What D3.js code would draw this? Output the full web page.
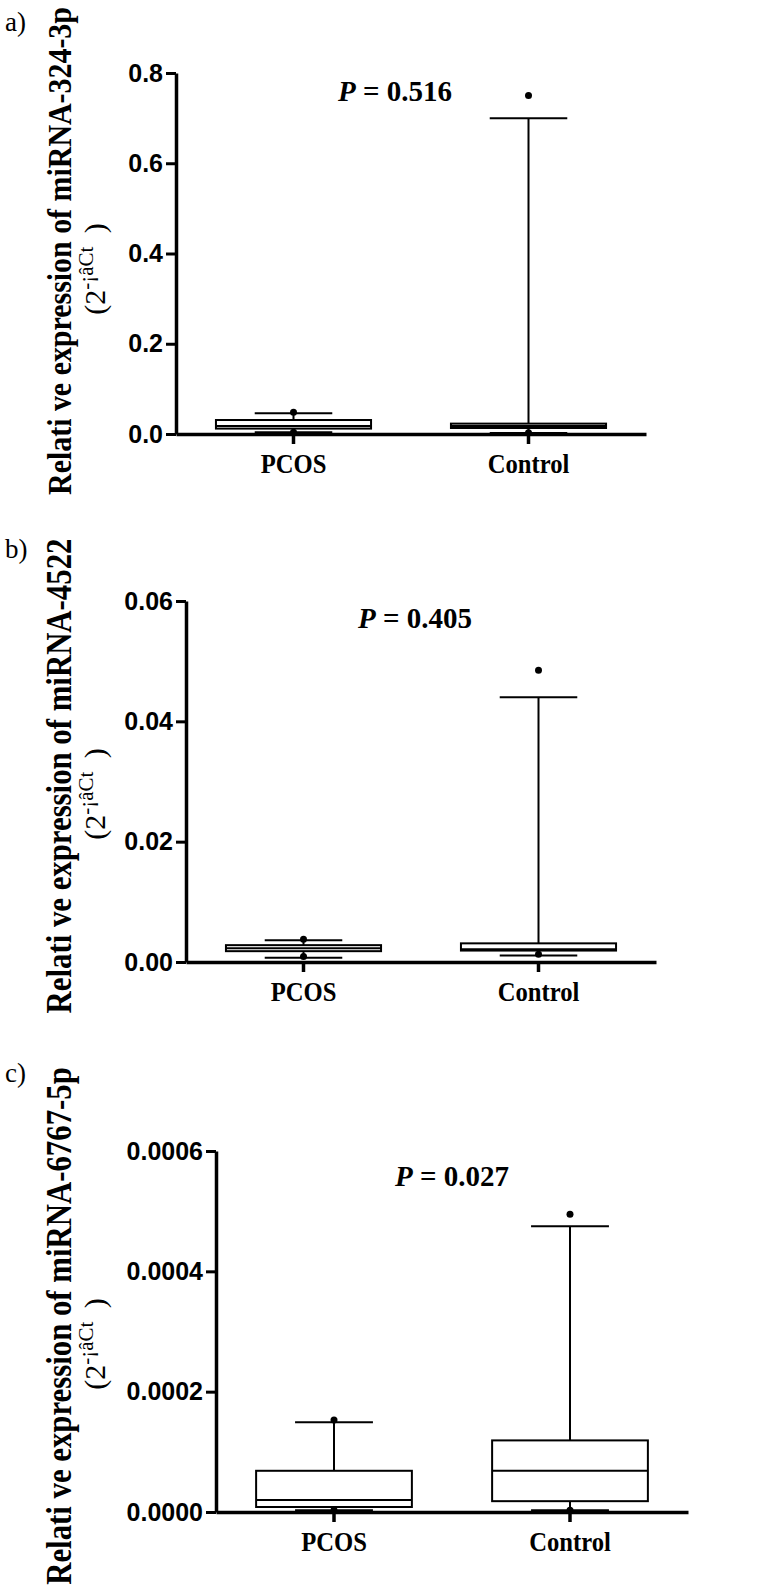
<!DOCTYPE html>
<html><head><meta charset="utf-8">
<script src="https://cdn.jsdelivr.net/npm/d3@7"></script>
<style>
html,body{margin:0;padding:0;background:#fff;}
svg{display:block;}
</style></head>
<body>
<svg id="chart" width="766" height="1593"></svg>
<script>
// ---------- DATA ----------
const categories = ["PCOS", "Control"];
const panelLabels = ["a)", "b)", "c)"];
const yTitles = [
  "Relati ve expression of miRNA-324-3p",
  "Relati ve expression of miRNA-4522",
  "Relati ve expression of miRNA-6767-5p"
];
const yTitle2 = ["(2", "-¡âCt", " )"];
const yTicksA = [0, 0.2, 0.4, 0.6, 0.8];
const yTicksB = [0, 0.02, 0.04, 0.06];
const yTicksC = [0, 0.0002, 0.0004, 0.0006];
const tickFormats = [".1f", ".2f", ".4f"];
const pValues = ["0.516", "0.405", "0.027"];
// box stats: [lower whisker, Q1, median, Q3, upper whisker]
const statsA_PCOS    = [0.004, 0.012, 0.018, 0.031, 0.046];
const statsA_Control = [0.002, 0.0133, 0.018, 0.023, 0.70];
const dotsA_PCOS     = [0.004, 0.048];
const dotsA_Control  = [0.003, 0.75];
const statsB_PCOS    = [0.0007, 0.0018, 0.0023, 0.0028, 0.0036];
const statsB_Control = [0.0011, 0.0019, 0.0021, 0.0031, 0.044];
const dotsB_PCOS     = [0.0009, 0.0038];
const dotsB_Control  = [0.0013, 0.0485];
const statsC_PCOS    = [0.000003, 0.0000083, 0.00002, 0.0000685, 0.000149];
const statsC_Control = [0.000003, 0.000018, 0.0000685, 0.000119, 0.000475];
const dotsC_PCOS     = [0.000003, 0.000153];
const dotsC_Control  = [0.000003, 0.000495];

// ---------- LAYOUT ----------
const layout = [
  {axisX:176, top:73,   bottom:434,  right:646, pX:338, pY:101,  lblY:31,   titleY:251, titleSize:34},
  {axisX:186, top:601,  bottom:962,  right:656, pX:358, pY:628,  lblY:558,  titleY:776, titleSize:35},
  {axisX:216, top:1151, bottom:1512, right:688, pX:395, pY:1186, lblY:1082, titleY:1326, titleSize:35}
];
const panels = [
  {ticks:yTicksA, stats:[statsA_PCOS, statsA_Control], dots:[dotsA_PCOS, dotsA_Control]},
  {ticks:yTicksB, stats:[statsB_PCOS, statsB_Control], dots:[dotsB_PCOS, dotsB_Control]},
  {ticks:yTicksC, stats:[statsC_PCOS, statsC_Control], dots:[dotsC_PCOS, dotsC_Control]}
];

const svg = d3.select("#chart");
const SERIF = "'Liberation Serif','Times New Roman',serif";
const SANS = "'Liberation Sans',Arial,Helvetica,sans-serif";

panels.forEach((p, i) => {
  const L = layout[i];
  const g = svg.append("g");
  const y = d3.scaleLinear().domain([0, d3.max(p.ticks)]).range([L.bottom, L.top]);
  const x = d3.scaleBand().domain(categories).range([L.axisX, L.right]).padding(0);
  const bw = x.bandwidth();
  const cx = c => x(c) + bw / 2;

  // panel label
  g.append("text").attr("x", 5).attr("y", L.lblY)
    .attr("font-family", SERIF).attr("font-size", 27).text(panelLabels[i]);

  // y title (two lines, rotated, condensed)
  g.append("g").attr("transform", `translate(71,${L.titleY}) rotate(-90) scale(0.88,1)`)
    .append("text").attr("text-anchor", "middle")
    .attr("font-family", SERIF).attr("font-weight", "bold").attr("font-size", L.titleSize)
    .text(yTitles[i]);
  const t2 = g.append("g").attr("transform", `translate(105,${L.titleY + 18}) rotate(-90)`)
    .append("text").attr("text-anchor", "middle")
    .attr("font-family", SERIF).attr("font-size", 30);
  t2.append("tspan").text(yTitle2[0]);
  t2.append("tspan").attr("dy", -12).attr("font-size", 21).text(yTitle2[1]);
  t2.append("tspan").attr("dy", 12).attr("dx", 6).text(yTitle2[2]);

  // y axis
  const yAxis = d3.axisLeft(y).tickValues(p.ticks).tickFormat(d3.format(tickFormats[i]))
    .tickSize(10).tickSizeOuter(0).tickPadding(3);
  const ya = g.append("g").attr("transform", `translate(${L.axisX},0)`).call(yAxis);
  ya.select(".domain").attr("stroke-width", 3.5).attr("stroke", "#000");
  ya.selectAll(".tick line").attr("stroke-width", 3).attr("stroke", "#000");
  ya.selectAll(".tick text").attr("font-family", SANS).attr("font-weight", "bold")
    .attr("font-size", 25).attr("fill", "#000");

  // x axis
  const xAxis = d3.axisBottom(x).tickSize(10).tickSizeOuter(0).tickFormat("");
  const xa = g.append("g").attr("transform", `translate(0,${L.bottom})`).call(xAxis);
  xa.select(".domain").attr("stroke-width", 3.5).attr("stroke", "#000");
  xa.selectAll(".tick line").attr("stroke-width", 3.5).attr("stroke", "#000");
  categories.forEach(c => {
    g.append("g").attr("transform", `translate(${cx(c)},${L.bottom + 39}) scale(0.88,1)`)
      .append("text").attr("text-anchor", "middle")
      .attr("font-family", SERIF).attr("font-weight", "bold").attr("font-size", 28)
      .text(c);
  });

  // boxes
  categories.forEach((c, j) => {
    const s = p.stats[j];
    const xc = cx(c);
    const boxW = bw * 0.66, capW = bw * 0.33;
    const bg = g.append("g").attr("stroke", "#000").attr("stroke-width", 2).attr("fill", "none");
    bg.append("line").attr("x1", xc).attr("x2", xc).attr("y1", y(s[3])).attr("y2", y(s[4]));
    bg.append("line").attr("x1", xc).attr("x2", xc).attr("y1", y(s[1])).attr("y2", y(s[0]));
    bg.append("line").attr("x1", xc - capW/2).attr("x2", xc + capW/2).attr("y1", y(s[4])).attr("y2", y(s[4]));
    bg.append("line").attr("x1", xc - capW/2).attr("x2", xc + capW/2).attr("y1", y(s[0])).attr("y2", y(s[0]));
    bg.append("rect").attr("x", xc - boxW/2).attr("width", boxW)
      .attr("y", y(s[3])).attr("height", y(s[1]) - y(s[3])).attr("fill", "#fff");
    bg.append("line").attr("x1", xc - boxW/2).attr("x2", xc + boxW/2).attr("y1", y(s[2])).attr("y2", y(s[2]));
    p.dots[j].forEach(v => {
      g.append("circle").attr("cx", xc).attr("cy", y(v)).attr("r", 3.5).attr("fill", "#000");
    });
  });

  // P value text
  const pt = g.append("text").attr("x", L.pX).attr("y", L.pY)
    .attr("font-family", SERIF).attr("font-weight", "bold").attr("font-size", 29);
  pt.append("tspan").attr("font-style", "italic").text("P");
  pt.append("tspan").text(" = " + pValues[i]);
});
</script>
</body></html>
